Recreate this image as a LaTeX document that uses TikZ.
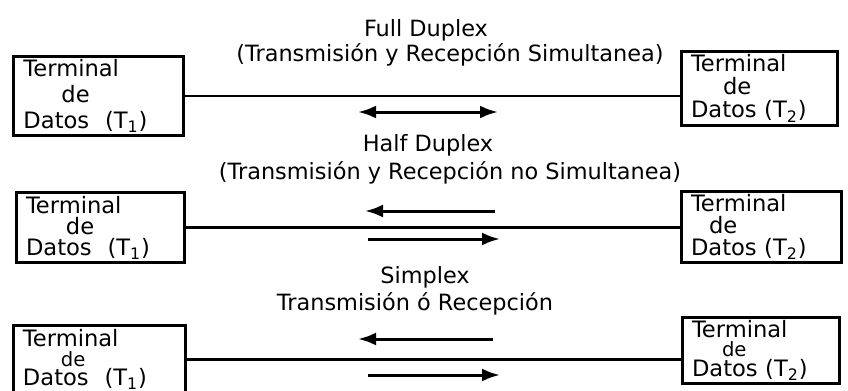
\documentclass[tikz,border=0pt]{standalone}
\usepackage{fontspec}
\setmainfont{DejaVu Sans}
\usetikzlibrary{arrows.meta}
\newcommand\smallde{{\fontsize{9.8}{9.5}\selectfont de}}
\tikzset{
  termbox/.style={draw=black, line width=1.5pt, align=left, inner ysep=1.5pt,
    inner xsep=5pt, font=\fontsize{11.3}{#1}\selectfont},
  termbox/.default=13pt,
  modetitle/.style={inner sep=0pt, font=\fontsize{11.2}{13}\selectfont},
  linkline/.style={line width=1.4pt, draw=black},
  flowarrow/.style={-{Latex[length=9pt, width=6.5pt]}, line width=1.5pt},
  flowboth/.style={{Latex[length=9pt, width=6.5pt]}-{Latex[length=9pt, width=6.5pt]},
    line width=1.5pt}
}

\begin{document}
\begin{tikzpicture}[x=0.5pt, y=-0.5pt]
  \useasboundingbox (0,0) rectangle (848,391);

  % full duplex
  \node[modetitle] (fdtitle) at (426,30) {Full Duplex};
  \node[modetitle] (fdsub) at (450,55) {(Transmisión y Recepción Simultanea)};
  \node[termbox, text width=75pt, minimum height=39pt] (fdleft) at (98.5,96)
    {Terminal\\\hspace*{19pt}de\\Datos\hspace{0.7em}(T\textsubscript{1})};
  \node[termbox=11.5pt, text width=68pt, minimum height=36.5pt] (fdright) at (759,88.5)
    {Terminal\\\hspace*{16pt}de\\Datos (T\textsubscript{2})};
  \draw[linkline] (fdleft.east) -- (fdleft.east -| fdright.west);
  \coordinate (fdA) at (358,112);
  \coordinate (fdB) at (498,112);
  \draw[flowboth] (fdA) -- (fdB);

  % half duplex
  \node[modetitle] (hdtitle) at (428,145) {Half Duplex};
  \node[modetitle] (hdsub) at (450,173) {(Transmisión y Recepción no Simultanea)};
  \node[termbox=10.5pt, text width=74pt, minimum height=34.5pt] (hdleft) at (100,227.5)
    {Terminal\\\hspace*{20pt}de\\Datos\hspace{0.7em}(T\textsubscript{1})};
  \node[termbox=11pt, text width=70pt, minimum height=35pt] (hdright) at (761,227)
    {Terminal\\\hspace*{9pt}de\\Datos (T\textsubscript{2})};
  \draw[linkline] (hdleft.east) -- (hdleft.east -| hdright.west);
  \coordinate (hdA) at (495,211);
  \coordinate (hdB) at (365,211);
  \coordinate (hdC) at (368,239);
  \coordinate (hdD) at (500,239);
  \draw[flowarrow] (hdA) -- (hdB);
  \draw[flowarrow] (hdC) -- (hdD);

  % simplex
  \node[modetitle] (sxtitle) at (425,277) {Simplex};
  \node[modetitle] (sxsub) at (415,304) {Transmisión ó Recepción};
  \node[termbox=9.8pt, text width=76pt, minimum height=34pt] (sxleft) at (99,359.5)
    {Terminal\\\hspace*{19pt}\smallde\\Datos\hspace{0.7em}(T\textsubscript{1})};
  \node[termbox=9.8pt, text width=68.5pt, minimum height=32.5pt] (sxright) at (760.5,350.5)
    {Terminal\\\hspace*{15pt}\smallde\\Datos (T\textsubscript{2})};
  \draw[linkline] (sxleft.east) -- (sxleft.east -| sxright.west);
  \coordinate (sxA) at (493,339);
  \coordinate (sxB) at (358,339);
  \coordinate (sxC) at (368,375);
  \coordinate (sxD) at (500,375);
  \draw[flowarrow] (sxA) -- (sxB);
  \draw[flowarrow] (sxC) -- (sxD);
\end{tikzpicture}
\end{document}
